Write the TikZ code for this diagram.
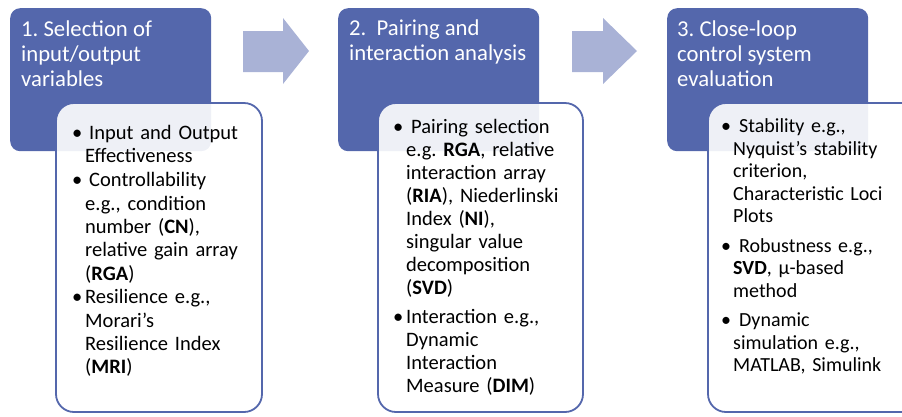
\documentclass[tikz,border=0pt]{standalone}
\usepackage{fontspec}
\setmainfont{Carlito}
\frenchspacing
\definecolor{hdrblue}{RGB}{84,103,172}
\definecolor{arrowblue}{RGB}{169,178,214}
% forced line break that keeps the paragraph (and its hanging indent) open
\newcommand{\nl}{\hfil\break}
% bullet item with hanging indent; optional arg = extra gap after the bullet
\newcommand{\bitem}[3][0pt]{\par\hangindent=#2\hangafter=1\noindent\makebox[#2][l]{\textbullet}\hspace{#1}#3\par}
\begin{document}
\begin{tikzpicture}[x=1pt,y=-1pt,
  header/.style={fill=hdrblue, rounded corners=10pt, anchor=north west, inner sep=0pt,
    minimum width=201pt, minimum height=143pt},
  panel/.style={draw=hdrblue, line width=1.8pt, fill=white, fill opacity=0.9,
    rounded corners=18pt},
  flow/.style={fill=arrowblue},
  htext/.style={anchor=north west, inner sep=0pt, text=white, align=left,
    font=\fontsize{22.7}{25}\selectfont},
  btext/.style={anchor=north west, inner sep=0pt, text width=220pt,
    font=\fontsize{20.5}{23.3}\selectfont, align=left}]
\useasboundingbox (0,0) rectangle (902,416);

% stage headers
\node[header] (h1) at (10,8) {};
\node[header] (h2) at (338,8) {};
\node[header] (h3) at (667,8) {};

% flow arrows between stages
\fill[flow] (243,31) -- (283,31) -- (283,18) -- (309,51) -- (283,84) -- (283,72) -- (243,72) -- cycle;
\fill[flow] (572,31) -- (603,31) -- (603,18) -- (637,51) -- (603,84) -- (603,72) -- (572,72) -- cycle;

% header titles
\node[htext] (t1) at (21,21) {1. Selection of\\input/output\\variables};
\node[htext] (t2) at (349,20) {2.\ \ Pairing and\\interaction analysis};
\node[htext] (t3) at (677,21) {3. Close-loop\\control system\\evaluation};

% detail panels
\path[panel] (56,103) rectangle (262,412);
\path[panel] (378,103) rectangle (583,412);
\path[panel] (708,103) rectangle (930,412);

% panel texts
\node[btext] (b1) at (72,115.5) {\setlength{\parskip}{0.6pt}%
  \bitem[4pt]{13pt}{Input and Output\nl Effectiveness}
  \bitem[4pt]{13pt}{Controllability\nl e.g., condition\nl number (\textbf{CN}),\nl relative gain array\nl (\textbf{RGA})}
  \bitem{13pt}{Resilience e.g.,\nl Morari’s\nl Resilience Index\nl (\textbf{MRI})}};
\node[btext, font=\fontsize{20.5}{23}\selectfont] (b2) at (393,104) {\setlength{\parskip}{6pt}%
  \bitem[5pt]{13pt}{Pairing selection\nl e.g. \textbf{RGA}, relative\nl interaction array\nl (\textbf{RIA}), Niederlinski\nl Index (\textbf{NI}),\nl singular value\nl decomposition\nl (\textbf{SVD})}
  \bitem{13pt}{Interaction e.g.,\nl Dynamic\nl Interaction\nl Measure (\textbf{DIM})}};
\node[btext, font=\fontsize{20}{22.5}\selectfont] (b3) at (721,103) {\setlength{\parskip}{7pt}%
  \bitem[6pt]{12pt}{Stability e.g.,\nl Nyquist’s stability\nl criterion,\nl Characteristic Loci\nl Plots}
  \bitem[6pt]{12pt}{Robustness e.g.,\nl \textbf{SVD}, μ-based\nl method}
  \bitem[6pt]{12pt}{Dynamic\nl simulation e.g.,\nl MATLAB, Simulink}};
\end{tikzpicture}
\end{document}
